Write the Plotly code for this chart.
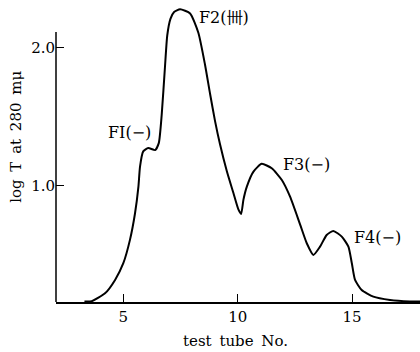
import plotly.graph_objects as go

# Elution curve
tube_no = [3.3, 3.62, 4.2, 4.64, 5.0, 5.29, 5.51, 5.66, 5.73, 5.87, 6.09, 6.39, 6.55, 6.68,
           6.82, 6.92, 7.06, 7.22, 7.48, 7.92, 8.28, 8.57, 8.79, 9.01, 9.23, 9.52, 9.81, 10.03,
           10.15, 10.25, 10.40, 10.69, 11.05, 11.49, 11.93, 12.29, 12.73, 13.02, 13.31,
           13.60, 13.89, 14.18, 14.55, 14.84, 14.99, 15.13, 15.42, 15.93, 16.66, 17.53, 17.97]
log_t = [0.163, 0.165, 0.222, 0.319, 0.44, 0.609, 0.80, 0.995, 1.14, 1.25, 1.275, 1.26, 1.31, 1.52,
         1.86, 2.09, 2.21, 2.26, 2.28, 2.25, 2.11, 1.88, 1.67, 1.47, 1.30, 1.11, 0.95, 0.83,
         0.797, 0.899, 0.995, 1.104, 1.16, 1.128, 1.043, 0.922, 0.72, 0.585, 0.50,
         0.56, 0.645, 0.674, 0.633, 0.56, 0.44, 0.319, 0.246, 0.198, 0.174, 0.163, 0.162]

x_ticks = [5, 10, 15]
y_ticks = [1.0, 2.0]
y_tick_labels = ["1.0", "2.0"]

peak_labels = ["FI(−)", "F2(卌)", "F3(−)", "F4(−)"]
peak_x = [5.25, 9.42, 13.01, 16.11]
peak_y = [1.384, 2.217, 1.152, 0.63]

FONT = "DejaVu Serif, Liberation Serif, serif"
X_RANGE = [2.057, 17.97]
Y_RANGE = [0.159, 2.311]
Y_AXIS_TOP = 2.116

fig = go.Figure()
fig.add_trace(go.Scatter(x=tube_no, y=log_t, mode="lines",
                         line=dict(color="black", width=2, shape="spline", smoothing=0.55),
                         hoverinfo="skip", showlegend=False))

for t, px, py in zip(peak_labels, peak_x, peak_y):
    fig.add_annotation(x=px, y=py, xref="x", yref="y", text=t, showarrow=False,
                       xanchor="center", yanchor="middle",
                       font=dict(family=FONT, size=16, color="black"))

# y-axis line (stops below the top of the plot)
fig.add_shape(type="line", xref="paper", yref="y", x0=0, x1=0, y0=Y_RANGE[0], y1=Y_AXIS_TOP,
              line=dict(color="black", width=1.5))

fig.add_annotation(xref="paper", yref="paper", x=-0.11, y=0.556, textangle=-90,
                   xanchor="center", yanchor="middle",
                   text="log\u2009 T\u2009 at\u2009 280\u2009 m\u03bc", showarrow=False,
                   font=dict(family=FONT, size=15, color="black"))
fig.add_annotation(xref="paper", yref="paper", x=0.492, y=-0.131,
                   xanchor="center", yanchor="middle",
                   text="test\u2009 tube\u2009 No.", showarrow=False,
                   font=dict(family=FONT, size=15, color="black"))

fig.update_layout(
    width=420, height=352,
    margin=dict(l=56, r=0, t=5, b=50),
    paper_bgcolor="white", plot_bgcolor="white",
    font=dict(family=FONT, size=15, color="black"),
)
fig.update_xaxes(range=X_RANGE, tickvals=x_ticks, ticks="inside", ticklen=8, tickwidth=1,
                 tickcolor="black", showline=True, linecolor="black", linewidth=1.5,
                 showgrid=False, zeroline=False, tickfont=dict(family=FONT, size=15))
fig.update_yaxes(range=Y_RANGE, tickvals=y_ticks, ticktext=y_tick_labels, ticks="inside",
                 ticklen=8, tickwidth=1, tickcolor="black", showline=False,
                 showgrid=False, zeroline=False, tickfont=dict(family=FONT, size=15))

fig.write_html("out.html")
